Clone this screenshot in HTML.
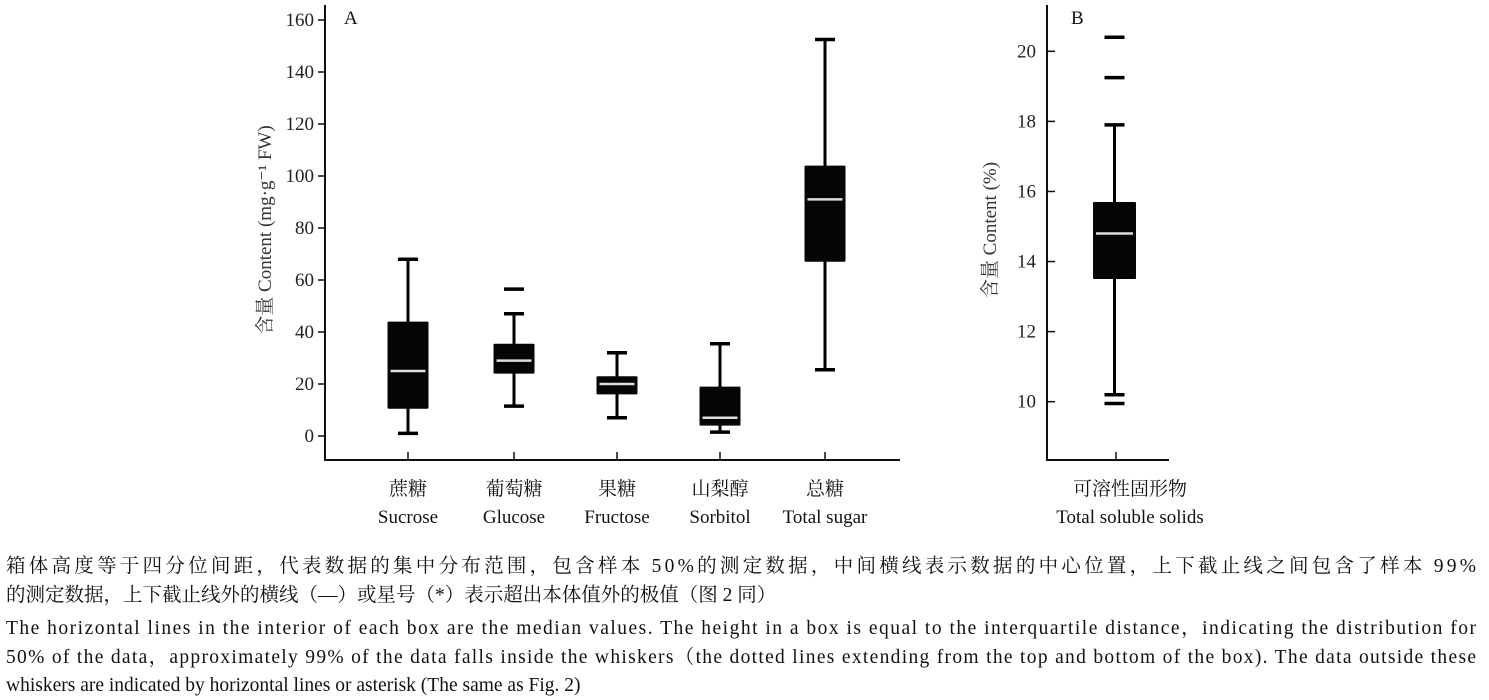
<!DOCTYPE html>
<html><head><meta charset="utf-8"><style>
html,body{margin:0;padding:0;background:#fff;}
svg{display:block;font-family:"Liberation Serif","Noto Serif CJK SC","Noto Sans CJK SC",serif;}
</style></head><body>
<svg id="chart" width="1489" height="700" viewBox="0 0 1489 700" xmlns="http://www.w3.org/2000/svg">
<g id="pa"></g>
<g id="pb"></g>
<g font-size="19.5" fill="#111">
<text x="6" y="572" textLength="1470" lengthAdjust="spacing">箱体高度等于四分位间距，代表数据的集中分布范围，包含样本 50%的测定数据，中间横线表示数据的中心位置，上下截止线之间包含了样本 99%</text>
<text x="6" y="601">的测定数据，上下截止线外的横线（—）或星号（*）表示超出本体值外的极值（图 2 同）</text>
<text x="6" y="634" textLength="1470" lengthAdjust="spacing">The horizontal lines in the interior of each box are the median values. The height in a box is equal to the interquartile distance，indicating the distribution for</text>
<text x="6" y="663" textLength="1470" lengthAdjust="spacing">50% of the data，approximately 99% of the data falls inside the whiskers（the dotted lines extending from the top and bottom of the box). The data outside these</text>
<text x="6" y="691">whiskers are indicated by horizontal lines or asterisk (The same as Fig. 2)</text>
</g>
</svg>
<script>
// Panel A data
const catsCn = ["蔗糖","葡萄糖","果糖","山梨醇","总糖"];
const catsEn = ["Sucrose","Glucose","Fructose","Sorbitol","Total sugar"];
const lowA = [1, 11.5, 7, 1.5, 25.5];
const q1A = [10.5, 24, 16, 4, 67];
const medA = [25, 29, 20, 7, 91];
const q3A = [44, 35.5, 23, 19, 104];
const highA = [68, 47, 32, 35.5, 152.5];
const outA = [[], [56.5], [], [], []];
const ticksA = [0,20,40,60,80,100,120,140,160];
// Panel B data
const catB = ["可溶性固形物","Total soluble solids"];
const statsB = [10.2, 13.5, 14.8, 15.7, 17.9]; // low,q1,med,q3,high
const outB = [20.4, 19.25, 9.95];
const ticksB = [10,12,14,16,18,20];

const NS="http://www.w3.org/2000/svg";
function mk(parent,tag,attrs,text){const e=document.createElementNS(NS,tag);for(const k in attrs)e.setAttribute(k,attrs[k]);if(text!==undefined)e.textContent=text;parent.appendChild(e);return e;}

function drawBox(p,x,w,ys,lo,q1,md,q3,hi,outs,name){
  const g=mk(p,'g',{});
  
  
  mk(g,'line',{x1:x,x2:x,y1:ys(hi),y2:ys(lo),stroke:'#000','stroke-width':3});
  mk(g,'line',{x1:x-10,x2:x+10,y1:ys(hi),y2:ys(hi),stroke:'#000','stroke-width':3.5});
  mk(g,'line',{x1:x-10,x2:x+10,y1:ys(lo),y2:ys(lo),stroke:'#000','stroke-width':3.5});
  mk(g,'rect',{x:x-w/2,y:ys(q3),width:w,height:ys(q1)-ys(q3),fill:'#050505',rx:1});
  mk(g,'line',{x1:x-w/2+3,x2:x+w/2-3,y1:ys(md),y2:ys(md),stroke:'#ddd','stroke-width':2.5});
  outs.forEach(o=>{
    const ol=mk(g,'line',{x1:x-10,x2:x+10,y1:ys(o),y2:ys(o),stroke:'#000','stroke-width':3.5});
    
    
  });
}

// Panel A
const pa=document.getElementById('pa');
const yA=v=>436-(v/160)*416;
const xA=i=>[408,514,617,720,825][i];
const axA=mk(pa,'path',{d:'M325,5 V460 H900',fill:'none',stroke:'#111','stroke-width':2});


ticksA.forEach(t=>{
  const l=mk(pa,'line',{x1:318,x2:325,y1:yA(t),y2:yA(t),stroke:'#111','stroke-width':1.5});
  
  
  const tx=mk(pa,'text',{x:314,y:yA(t)+6,'text-anchor':'end','font-size':19,fill:'#222'},t);
  
  
});
const la=mk(pa,'text',{x:344,y:24,'font-size':19,fill:'#111'},'A');


const ta=mk(pa,'text',{transform:'translate(271,230) rotate(-90)','text-anchor':'middle','font-size':19,fill:'#333'},'含量 Content (mg·g⁻¹ FW)');


catsCn.forEach((c,i)=>{
  const x=xA(i);
  const tk=mk(pa,'line',{x1:x,x2:x,y1:452,y2:460,stroke:'#111','stroke-width':1.5});
  
  
  const c1=mk(pa,'text',{x:x,y:495,'text-anchor':'middle','font-size':19,fill:'#111'},c);
  
  
  const c2=mk(pa,'text',{x:x,y:523,'text-anchor':'middle','font-size':19,fill:'#111'},catsEn[i]);
  
  
  drawBox(pa,x,41,yA,lowA[i],q1A[i],medA[i],q3A[i],highA[i],outA[i],'box-'+catsEn[i].toLowerCase().replace(' ','-'));
});

// Panel B
const pb=document.getElementById('pb');
const yB=v=>401.7-(v-10)/10*350.4;
const axB=mk(pb,'path',{d:'M1047,5 V460 H1169',fill:'none',stroke:'#111','stroke-width':2});


ticksB.forEach(t=>{
  const l=mk(pb,'line',{x1:1047,x2:1055,y1:yB(t),y2:yB(t),stroke:'#111','stroke-width':1.5});
  
  
  const tx=mk(pb,'text',{x:1036,y:yB(t)+6,'text-anchor':'end','font-size':19,fill:'#222'},t);
  
  
});
const lb=mk(pb,'text',{x:1071,y:24,'font-size':19,fill:'#111'},'B');


const tb=mk(pb,'text',{transform:'translate(996,230) rotate(-90)','text-anchor':'middle','font-size':19,fill:'#333'},'含量 Content (%)');


const xb=1116;
const tkb=mk(pb,'line',{x1:xb,x2:xb,y1:452,y2:460,stroke:'#111','stroke-width':1.5});


const b1=mk(pb,'text',{x:1130,y:495,'text-anchor':'middle','font-size':19,fill:'#111'},catB[0]);


const b2=mk(pb,'text',{x:1130,y:523,'text-anchor':'middle','font-size':19,fill:'#111'},catB[1]);


drawBox(pb,1114.5,43,yB,statsB[0],statsB[1],statsB[2],statsB[3],statsB[4],outB,'box-total-soluble-solids');
</script>
</body></html>
